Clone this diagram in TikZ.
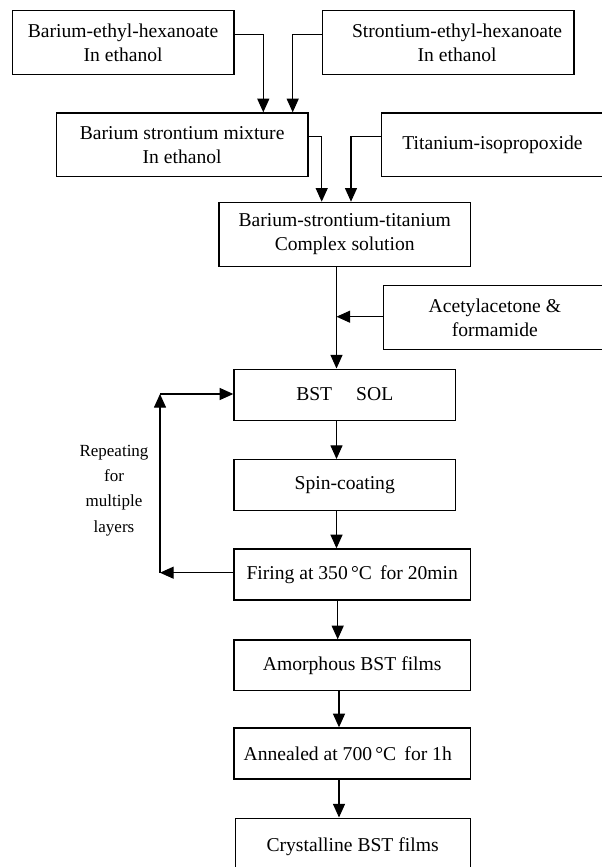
\documentclass[tikz,border=0pt]{standalone}
\usepackage{fontspec}
\setmainfont{Liberation Serif}
\usetikzlibrary{arrows.meta}

\tikzset{
  box/.style={draw=black, line width=0.6pt, rectangle, anchor=north west,
              inner sep=0pt, font=\fontsize{9.8}{12}\selectfont, align=center},
  arr/.style={draw=black, line width=0.55pt,
              -{Triangle[length=6.8pt,width=6pt]}},
  note/.style={font=\fontsize{8.5}{12.65}\selectfont, align=center, inner sep=0pt}
}

\begin{document}
\begin{tikzpicture}[x=0.5pt, y=-0.5pt]
  \useasboundingbox (0,0) rectangle (601,867);

  % starting solutions
  \node[box, minimum width=110.8pt, minimum height=32pt] (b1) at (11.7,10)
    {Barium-ethyl-hexanoate\\In ethanol};
  \node[box, minimum width=125.8pt, minimum height=32pt] (b2) at (321.7,10)
    {\hspace*{9pt}Strontium-ethyl-hexanoate\\\hspace*{9pt}In ethanol};

  % mixture and titanium source
  \node[box, minimum width=125.8pt, minimum height=31.85pt] (b3) at (55.7,112.3)
    {Barium strontium mixture\\In ethanol};
  \node[box, minimum width=111.15pt, minimum height=31.85pt] (b4) at (380.7,112.3)
    {Titanium-isopropoxide};

  % complex solution and additives
  \node[box, minimum width=125.85pt, minimum height=32pt] (b5) at (218.3,201.7)
    {Barium-strontium-titanium\\Complex solution};
  \node[box, minimum width=111.75pt, minimum height=32pt] (b6) at (382.5,285)
    {Acetylacetone \&\\formamide};

  % film processing steps
  \node[box, minimum width=110.85pt, minimum height=25.5pt] (bst) at (233.3,368.5)
    {BST\hspace{12pt}SOL};
  \node[box, minimum width=110.85pt, minimum height=25.25pt] (spin) at (233.3,459)
    {Spin-coating};
  \node[box, minimum width=118.35pt, minimum height=25.5pt] (fire) at (233.3,548.3)
    {Firing at 350\,°C\, for 20min};
  \node[box, minimum width=118.35pt, minimum height=25.35pt] (amor) at (233.3,639.3)
    {Amorphous BST films};
  \node[box, minimum width=118.35pt, minimum height=25.5pt] (ann) at (233.3,727.3)
    {Annealed at 700\,°C\, for 1h\hspace*{4.5pt}};
  \node[box, minimum width=117.5pt, minimum height=28.2pt] (cry) at (234.5,817.5)
    {Crystalline BST films};

  % loop label
  \node[note] (rep) at (114,490.3) {Repeating\\for\\multiple\\layers};

  % junction points
  \coordinate (j1) at (263.3,34.3);
  \coordinate (j2) at (292.7,34.3);
  \coordinate (j3) at (321.7,136.7);
  \coordinate (j4) at (351,136.7);
  \coordinate (m)  at (336.5,316.7);
  \coordinate (c1) at (337.7,620);
  \coordinate (c2) at (339,700);
  \coordinate (lp) at (160,394);
  \coordinate (lb) at (160,572.7);

  % feeds into the mixture
  \draw[arr] (j1 -| b1.east) -- (j1) -- (j1 |- b3.north);
  \draw[arr] (j2 -| b2.west) -- (j2) -- (j2 |- b3.north);

  % feeds into the complex solution
  \draw[arr] (j3 -| b3.east) -- (j3) -- (j3 |- b5.north);
  \draw[arr] (j4 -| b4.west) -- (j4) -- (j4 |- b5.north);

  % main line down to the sol
  \draw[arr] (m |- b5.south) -- (m |- bst.north);
  \draw[arr] (m -| b6.west) -- (m);
  \draw[arr] (m |- bst.south) -- (m |- spin.north);
  \draw[arr] (m |- spin.south) -- (m |- fire.north);

  % repeat loop
  \draw[arr] (lb -| fire.west) -- (lb);
  \draw[arr] (lb) -- (lp);
  \draw[arr] (lp) -- (lp -| bst.west);

  % final steps
  \draw[arr] (c1 |- fire.south) -- (c1 |- amor.north);
  \draw[arr] (c2 |- amor.south) -- (c2 |- ann.north);
  \draw[arr] (c2 |- ann.south) -- (c2 |- cry.north);
\end{tikzpicture}
\end{document}
